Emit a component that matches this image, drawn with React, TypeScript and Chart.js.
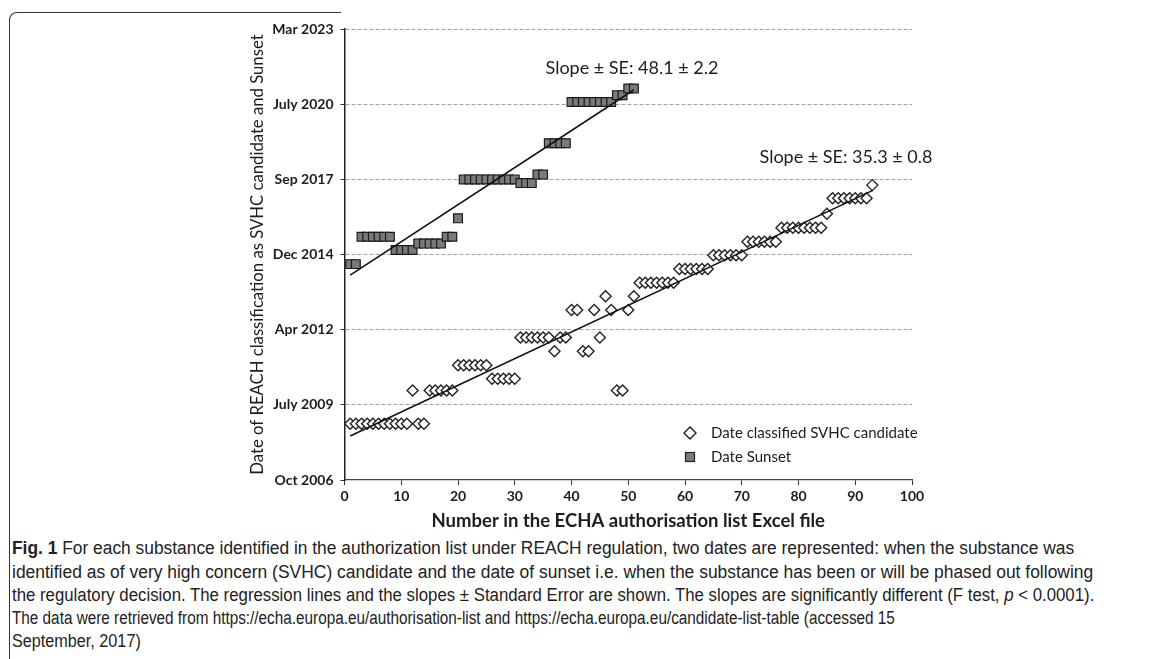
import React, { useEffect, useRef } from "react";
import { Chart, registerables } from "chart.js";

Chart.register(...registerables);

// Position of each substance in the ECHA authorisation list
const candidateIndex = [
  1, 2, 3, 4, 5, 6, 7, 8, 9, 10, 11, 12, 13, 14, 15, 16, 17, 18, 19, 20,
  21, 22, 23, 24, 25, 26, 27, 28, 29, 30, 31, 32, 33, 34, 35, 36, 37, 38, 39, 40,
  41, 42, 43, 44, 45, 46, 47, 48, 49, 50, 51, 52, 53, 54, 55, 56, 57, 58, 59, 60,
  61, 62, 63, 64, 65, 66, 67, 68, 69, 70, 71, 72, 73, 74, 75, 76, 77, 78, 79, 80,
  81, 82, 83, 84, 85, 86, 87, 88, 89, 90, 91, 92, 93,
];
// Date classified SVHC candidate (spreadsheet day serials)
const candidateDates = [
  39749, 39749, 39749, 39749, 39749, 39749, 39749, 39749, 39749, 39749, 39749,
  40191, 39749, 39749, 40191, 40191, 40191, 40191, 40191,
  40527, 40527, 40527, 40527, 40527, 40527,
  40347, 40347, 40347, 40347, 40347,
  40896, 40896, 40896, 40896, 40896, 40896, 40714, 40896, 40896,
  41262, 41262, 40714, 40714, 41262, 40896, 41445, 41262, 40191, 40191, 41262, 41445,
  41624, 41624, 41624, 41624, 41624, 41624, 41624,
  41806, 41806, 41806, 41806, 41806, 41806,
  41990, 41990, 41990, 41990, 41990, 41990,
  42170, 42170, 42170, 42170, 42170, 42170,
  42355, 42355, 42355, 42355, 42355, 42355, 42355, 42355,
  42541,
  42747, 42747, 42747, 42747, 42747, 42747, 42747,
  42923,
];

const sunsetIndex = [
  1, 2, 3, 4, 5, 6, 7, 8, 9, 10, 11, 12, 13, 14, 15, 16, 17, 18, 19, 20,
  21, 22, 23, 24, 25, 26, 27, 28, 29, 30, 31, 32, 33, 34, 35, 36, 37, 38, 39, 40,
  41, 42, 43, 44, 45, 46, 47, 48, 49, 50, 51,
];
// Date Sunset (spreadsheet day serials)
const sunsetDates = [
  41872, 41872,
  42237, 42237, 42237, 42237, 42237, 42237,
  42060, 42060, 42060, 42060,
  42145, 42145, 42145, 42145, 42145,
  42237, 42237,
  42481,
  42999, 42999, 42999, 42999, 42999, 42999, 42999, 42999, 42999, 42999,
  42950, 42950, 42950,
  43063, 43063,
  43480, 43480, 43480, 43480,
  44030, 44030, 44030, 44030, 44030, 44030, 44030, 44030,
  44120, 44120,
  44209, 44209,
];

const yTickValues = [39000, 40000, 41000, 42000, 43000, 44000, 45000];
const yTickLabels = ["Oct 2006", "July 2009", "Apr 2012", "Dec 2014", "Sep 2017", "July 2020", "Mar 2023"];

const seriesLabels = ["Date classified SVHC candidate", "Date Sunset"];
const slopeLabels = ["Slope \u00b1 SE: 48.1 \u00b1 2.2", "Slope \u00b1 SE: 35.3 \u00b1 0.8"];
const xTitle = "Number in the ECHA authorisation list Excel file";
const yTitle = "Date of REACH classification as SVHC candidate and Sunset";

function regression(xs: number[], ys: number[]) {
  const n = xs.length;
  let sx = 0, sy = 0, sxx = 0, sxy = 0;
  for (let i = 0; i < n; i++) {
    sx += xs[i]; sy += ys[i]; sxx += xs[i] * xs[i]; sxy += xs[i] * ys[i];
  }
  const slope = (n * sxy - sx * sy) / (n * sxx - sx * sx);
  const icpt = (sy - slope * sx) / n;
  const x0 = Math.min(...xs), x1 = Math.max(...xs);
  return [{ x: x0, y: icpt + slope * x0 }, { x: x1, y: icpt + slope * x1 }];
}

const INK = "#1c1c1c";

const overlayPlugin = {
  id: "overlay",
  afterDraw(chart: any) {
    const ctx = chart.ctx as CanvasRenderingContext2D;
    ctx.save();
    ctx.fillStyle = INK;
    ctx.textBaseline = "middle";
    ctx.textAlign = "center";
    ctx.font = "18px Lato";
    ctx.fillText(slopeLabels[0], 632, 68);
    ctx.fillText(slopeLabels[1], 846, 157);

    // legend
    ctx.textAlign = "left";
    ctx.font = "15px Lato";
    ctx.beginPath();
    ctx.moveTo(690, 427);
    ctx.lineTo(696, 433);
    ctx.lineTo(690, 439);
    ctx.lineTo(684, 433);
    ctx.closePath();
    ctx.fillStyle = "#fff";
    ctx.fill();
    ctx.strokeStyle = INK;
    ctx.lineWidth = 1.4;
    ctx.stroke();
    ctx.fillStyle = INK;
    ctx.fillText(seriesLabels[0], 711, 433);
    ctx.fillStyle = "#7a7a7a";
    ctx.fillRect(685.5, 452.5, 9, 9);
    ctx.strokeStyle = "#222";
    ctx.lineWidth = 1.2;
    ctx.strokeRect(685.5, 452.5, 9, 9);
    ctx.fillStyle = INK;
    ctx.fillText(seriesLabels[1], 711, 457);
    ctx.restore();
  },
};

export default function App() {
  const canvasRef = useRef<HTMLCanvasElement | null>(null);

  useEffect(() => {
    const canvas = canvasRef.current;
    if (!canvas) return;
    const candPts = candidateIndex.map((x, i) => ({ x, y: candidateDates[i] }));
    const sunPts = sunsetIndex.map((x, i) => ({ x, y: sunsetDates[i] }));
    const chart = new Chart(canvas, {
      type: "scatter",
      data: {
        datasets: [
          {
            label: "trend sunset",
            data: regression(sunsetIndex, sunsetDates),
            showLine: true,
            pointRadius: 0,
            borderColor: "#111",
            borderWidth: 1.6,
            order: 0,
          },
          {
            label: "trend candidate",
            data: regression(candidateIndex, candidateDates),
            showLine: true,
            pointRadius: 0,
            borderColor: "#111",
            borderWidth: 1.6,
            order: 0,
          },
          {
            label: seriesLabels[0],
            data: candPts,
            pointStyle: "rectRot",
            pointRadius: 5.5,
            backgroundColor: "#ffffff",
            borderColor: "#222",
            borderWidth: 1.4,
            order: 1,
          },
          {
            label: seriesLabels[1],
            data: sunPts,
            pointStyle: "rect",
            pointRadius: 6.2,
            backgroundColor: "#7a7a7a",
            borderColor: "#1a1a1a",
            borderWidth: 1.2,
            order: 1,
          },
        ],
      },
      options: {
        responsive: false,
        animation: false,
        events: [],
        layout: { padding: { left: 240, right: 238, top: 29, bottom: 0 } },
        plugins: { legend: { display: false }, tooltip: { enabled: false } },
        scales: {
          x: {
            type: "linear",
            min: 0,
            max: 100,
            afterFit: (scale: any) => { scale.height = 55; },
            ticks: {
              stepSize: 10,
              color: INK,
              padding: 3,
              font: { family: "Lato", size: 14, weight: "bold" },
            },
            grid: { drawOnChartArea: false, drawTicks: true, tickLength: 5, tickColor: "#333", tickWidth: 1 },
            border: { display: true, color: "#444", width: 1.3 },
            title: {
              display: true,
              text: xTitle,
              color: INK,
              font: { family: "Lato", size: 18.5, weight: "bold" },
              padding: { top: 0, bottom: 2.9 },
            },
          },
          y: {
            type: "linear",
            min: 39000,
            max: 45000,
            afterFit: (scale: any) => { scale.width = 104.5; },
            afterBuildTicks: (scale: any) => {
              scale.ticks = yTickValues.map((v) => ({ value: v }));
            },
            ticks: {
              color: INK,
              padding: 7,
              font: { family: "Lato", size: 14, weight: "bold" },
              callback: (v: any) => {
                const i = yTickValues.indexOf(Number(v));
                return i >= 0 ? yTickLabels[i] : "";
              },
            },
            grid: {
              color: (c: any) => (c.tick && c.tick.value === 39000 ? "rgba(0,0,0,0)" : "#a3a3a3"),
              lineWidth: 1,
              tickLength: 4,
              tickColor: "#333",
            },
            border: { display: true, color: "#222", width: 1.5, dash: [4, 2] },
            title: {
              display: true,
              text: yTitle,
              color: INK,
              font: { family: "Lato", size: 16.7 },
              padding: { top: 8, bottom: 0 },
            },
          },
        },
      },
      plugins: [overlayPlugin],
    } as any);
    return () => chart.destroy();
  }, []);

  const capFont = "'Liberation Sans', Arial, sans-serif";
  const lineStyle = (sx: number): React.CSSProperties => ({
    whiteSpace: "nowrap",
    height: 23.2,
    lineHeight: "23.2px",
    transform: `scaleX(${sx})`,
    transformOrigin: "0 50%",
  });

  return (
    <div style={{ position: "fixed", left: 0, top: 0, width: 1150, height: 659, background: "#fff", overflow: "hidden" }}>
      <div
        style={{
          position: "absolute",
          left: 9,
          top: 12,
          width: 331,
          height: 700,
          borderLeft: "1.5px solid #333",
          borderTop: "1.5px solid #333",
          borderTopLeftRadius: 8,
        }}
      />
      <canvas ref={canvasRef} width={1150} height={535} style={{ position: "absolute", left: 0, top: 0, display: "block" }} />
      <div
        style={{
          position: "absolute",
          left: 12,
          top: 537.4,
          fontFamily: capFont,
          fontSize: 18,
          color: "#222",
        }}
      >
        <div style={lineStyle(0.965)}>
          <b>Fig. 1</b> For each substance identified in the authorization list under REACH regulation, two dates are represented: when the substance was
        </div>
        <div style={lineStyle(0.97)}>
          identified as of very high concern (SVHC) candidate and the date of sunset i.e. when the substance has been or will be phased out following
        </div>
        <div style={lineStyle(0.933)}>
          the regulatory decision. The regression lines and the slopes ± Standard Error are shown. The slopes are significantly different (F test, <i>p</i> &lt; 0.0001).
        </div>
        <div style={lineStyle(0.85)}>
          The data were retrieved from https://echa.europa.eu/authorisation-list and https://echa.europa.eu/candidate-list-table (accessed 15
        </div>
        <div style={lineStyle(0.9)}>September, 2017)</div>
      </div>
    </div>
  );
}
